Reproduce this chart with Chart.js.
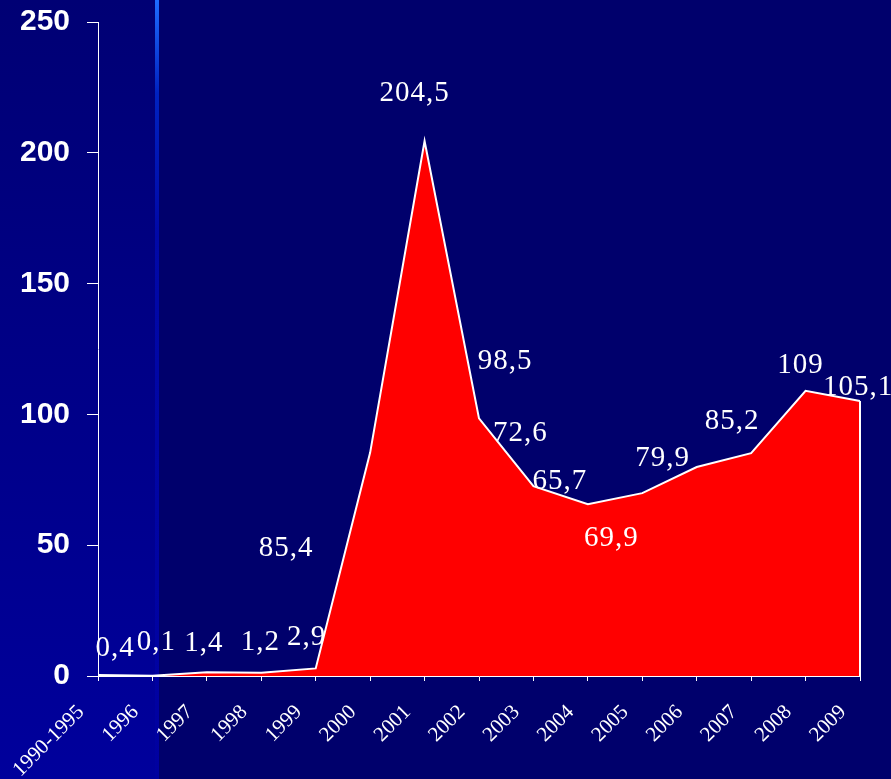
<!DOCTYPE html>
<html>
<head>
<meta charset="utf-8">
<script src="https://cdn.jsdelivr.net/npm/chart.js@4/dist/chart.umd.min.js"></script>
<style>
  html, body { margin: 0; padding: 0; background: #00006c; }
  canvas { display: block; }
</style>
</head>
<body>
<canvas id="chartCanv" width="891" height="779"></canvas>
<script>
// years and values
const years = ['1990-1995', '1996', '1997', '1998', '1999', '2000', '2001', '2002',
               '2003', '2004', '2005', '2006', '2007', '2008', '2009'];
const values = [0.4, 0.1, 1.4, 1.2, 2.9, 85.4, 204.5, 98.5, 72.6, 65.7, 69.9, 79.9, 85.2, 109, 105.1];
const valueLabels = ['0,4', '0,1', '1,4', '1,2', '2,9', '85,4', '204,5', '98,5',
                     '72,6', '65,7', '69,9', '79,9', '85,2', '109', '105,1'];
const yTicks = [0, 50, 100, 150, 200, 250];

// where each value label sits relative to its point (px)
const labelShift = [
  [17, -27], [4, -33], [-3, -29], [-1, -30], [-9, -31], [-84, 96], [-10, -48], [26, -57],
  [-13, -53], [-28, -23], [-31, 45], [-34, -9], [-19, -32], [-5, -25], [-2, -14]
];

// dark blue slide background with the lighter strip on the left
const slideBg = {
  id: 'slideBg',
  beforeDraw(chart) {
    const ctx = chart.ctx;
    const w = chart.width, h = chart.height;
    ctx.save();
    ctx.fillStyle = '#00006c';
    ctx.fillRect(0, 0, w, h);
    let g = ctx.createLinearGradient(0, 0, 0, h);
    g.addColorStop(0, '#000074');
    g.addColorStop(1, '#00009c');
    ctx.fillStyle = g;
    ctx.fillRect(0, 0, 155, h);
    g = ctx.createLinearGradient(0, 0, 0, h);
    g.addColorStop(0, '#1e6cff');
    g.addColorStop(0.12, '#0022c0');
    g.addColorStop(0.3, '#0008a8');
    g.addColorStop(1, '#0000a0');
    ctx.fillStyle = g;
    ctx.fillRect(155, 0, 4, h);
    ctx.restore();
  }
};

// closing edge of the area + value labels
const valueText = {
  id: 'valueText',
  afterDatasetsDraw(chart) {
    const ctx = chart.ctx;
    const pts = chart.getDatasetMeta(0).data;
    const yScale = chart.scales.y;
    const last = pts[pts.length - 1];
    ctx.save();
    ctx.strokeStyle = '#ffffff';
    ctx.lineWidth = 2;
    ctx.beginPath();
    ctx.moveTo(last.x, last.y);
    ctx.lineTo(last.x, yScale.getPixelForValue(0));
    ctx.stroke();

    ctx.fillStyle = '#ffffff';
    ctx.font = '29px "Liberation Serif", "Times New Roman", serif';
    ctx.letterSpacing = '1px';
    ctx.textAlign = 'center';
    ctx.textBaseline = 'middle';
    pts.forEach((p, i) => {
      ctx.fillText(valueLabels[i], p.x + labelShift[i][0], p.y + labelShift[i][1]);
    });
    ctx.restore();
  }
};

const chartCanv = document.getElementById('chartCanv');
const areaChart = new Chart(chartCanv, {
  type: 'line',
  data: {
    labels: years,
    datasets: [{
      data: values,
      borderColor: '#ffffff',
      borderWidth: 2,
      backgroundColor: '#ff0000',
      fill: 'origin',
      tension: 0,
      pointRadius: 0
    }]
  },
  options: {
    responsive: false,
    animation: false,
    layout: { padding: { top: 22, right: 31, left: 0, bottom: 0 } },
    plugins: { legend: { display: false }, tooltip: { enabled: false } },
    scales: {
      x: {
        offset: false,
        afterFit: s => { s.height = 103; s.paddingLeft = 0; s.paddingRight = 0; },
        grid: { drawOnChartArea: false, color: '#ffffff', tickLength: 5 },
        border: { color: '#ffffff', width: 1 },
        ticks: {
          color: '#ffffff',
          autoSkip: false,
          maxRotation: 45,
          minRotation: 45,
          padding: 19,
          labelOffset: -17,
          font: { family: '"Liberation Serif", "Times New Roman", serif', size: 21 }
        }
      },
      y: {
        min: 0,
        max: 250,
        afterFit: s => { s.width = 98; s.paddingTop = 0; s.paddingBottom = 0; },
        afterBuildTicks: s => { s.ticks = yTicks.map(v => ({ value: v })); },
        grid: { drawOnChartArea: false, color: '#ffffff', tickLength: 11 },
        border: { color: '#ffffff', width: 1 },
        ticks: {
          color: '#ffffff',
          padding: 17,
          font: { family: '"Liberation Sans", Arial, sans-serif', size: 30, weight: 'bold' }
        }
      }
    }
  },
  plugins: [slideBg, valueText]
});
</script>
</body>
</html>
